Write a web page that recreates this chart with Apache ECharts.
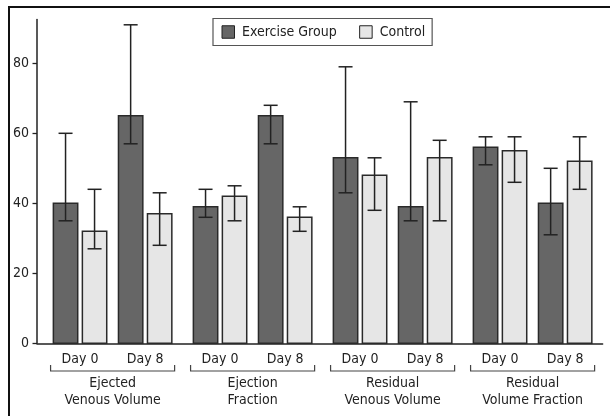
<!DOCTYPE html>
<html>
<head>
<meta charset="utf-8">
<title>Venous volume by group</title>
<script src="https://cdn.jsdelivr.net/npm/echarts@6/dist/echarts.min.js"></script>
<style>
  html, body { margin: 0; padding: 0; background: #fff; }
  #chart { width: 610px; height: 416px; }
</style>
</head>
<body>
<div id="chart"></div>
<script>
// Measures (x-axis groups) and the two time points inside each group
const groups = ['Ejected\nVenous Volume', 'Ejection\nFraction', 'Residual\nVenous Volume', 'Residual\nVolume Fraction'];
const days = ['Day 0', 'Day 8'];
const seriesNames = ['Exercise Group', 'Control'];

// Means, order: [Day 0, Day 8] for each measure
const exerciseMean = [[40, 65], [39, 65], [53, 39], [56, 40]];
const exerciseLow  = [[35, 57], [36, 57], [43, 35], [51, 31]];
const exerciseHigh = [[60, 91], [44, 68], [79, 69], [59, 50]];

const controlMean = [[32, 37], [42, 36], [48, 53], [55, 52]];
const controlLow  = [[27, 28], [35, 32], [38, 35], [46, 44]];
const controlHigh = [[44, 43], [45, 39], [53, 58], [59, 59]];

const yTicks = [0, 20, 40, 60, 80];

const FONT = '"Liberation Sans Narrow", "Arial Narrow", "DejaVu Sans Condensed", sans-serif';
const INK = '#222';
const TEXT_SIZE = 14;

// layout within one measure group (in units of the group width)
const PAIR_OFFSET = 0.2325;   // Day 0 / Day 8 pair centre from group centre
const BAR_OFFSET = 0.1036;    // bar centre from pair centre
const BAR_WIDTH = 0.174;
const CAP_WIDTH = 0.10;
const BRACKET_HALF = 0.443;

function rows(mean, low, high) {
  const out = [];
  mean.forEach((pair, g) => {
    pair.forEach((m, d) => out.push([g, d, m, low[g][d], high[g][d]]));
  });
  return out;
}

function barRenderer(side) {
  return function (params, api) {
    const g = api.value(0), d = api.value(1);
    const unit = api.size([1, 0])[0];
    const cx = api.coord([g, 0])[0] + ((d === 0 ? -1 : 1) * PAIR_OFFSET + side * BAR_OFFSET) * unit;
    const y0 = api.coord([g, 0])[1];
    const yTop = api.coord([g, api.value(2)])[1];
    const yLo = api.coord([g, api.value(3)])[1];
    const yHi = api.coord([g, api.value(4)])[1];
    const w = BAR_WIDTH * unit;
    const cap = CAP_WIDTH * unit;
    const style = api.style();
    const lineStyle = { stroke: INK, lineWidth: 1.5, fill: null };
    return {
      type: 'group',
      children: [
        {
          type: 'rect',
          shape: { x: cx - w / 2, y: yTop, width: w, height: y0 - yTop },
          style: { fill: style.fill, stroke: '#2a2a2a', lineWidth: 1.5 }
        },
        { type: 'line', shape: { x1: cx, y1: yLo, x2: cx, y2: yHi }, style: lineStyle },
        { type: 'line', shape: { x1: cx - cap / 2, y1: yHi, x2: cx + cap / 2, y2: yHi }, style: lineStyle },
        { type: 'line', shape: { x1: cx - cap / 2, y1: yLo, x2: cx + cap / 2, y2: yLo }, style: lineStyle }
      ]
    };
  };
}

// Day labels and the bracket under each measure group
function dayLabelRenderer(params, api) {
  const g = api.value(0);
  const unit = api.size([1, 0])[0];
  const cx = api.coord([g, 0])[0];
  const y0 = api.coord([g, 0])[1];
  const half = BRACKET_HALF * unit;
  const by = y0 + 27.7;
  const children = days.map((txt, d) => ({
    type: 'text',
    style: {
      text: txt,
      x: cx + (d === 0 ? -1 : 1) * PAIR_OFFSET * unit,
      y: y0 + 16.5,
      align: 'center',
      verticalAlign: 'middle',
      fontSize: TEXT_SIZE,
      fontFamily: FONT,
      fill: INK
    }
  }));
  children.push({
    type: 'polyline',
    shape: { points: [[cx - half, by - 6], [cx - half, by], [cx + half, by], [cx + half, by - 6]] },
    style: { stroke: '#444', lineWidth: 1.2, fill: null }
  });
  return { type: 'group', children };
}

const chart = echarts.init(document.getElementById('chart'), null, { renderer: 'canvas' });

chart.setOption({
  animation: false,
  backgroundColor: '#fff',
  textStyle: { fontFamily: FONT },
  graphic: [{
    type: 'rect',
    z: -10,
    shape: { x: 9, y: 7, width: 700, height: 500 },
    style: { fill: null, stroke: '#111', lineWidth: 2 }
  }],
  legend: {
    data: seriesNames,
    left: 213,
    top: 18.5,
    orient: 'horizontal',
    icon: 'rect',
    itemWidth: 12.5,
    itemHeight: 12.5,
    itemGap: 22.5,
    padding: [5, 7, 5, 8.5],
    borderColor: '#555',
    borderWidth: 1.2,
    backgroundColor: '#fff',
    itemStyle: { borderColor: '#222', borderWidth: 1 },
    textStyle: { fontSize: TEXT_SIZE, color: INK, fontFamily: FONT, padding: [0, 0, 0, 2.5], lineHeight: 17 }
  },
  grid: { left: 37, right: 7.4, top: 19.55, height: 323.75, containLabel: false },
  xAxis: {
    type: 'value',
    min: -0.54,
    max: 3.5,
    splitLine: { show: false },
    axisTick: { show: false },
    axisLine: { show: true, onZero: false, lineStyle: { color: INK, width: 1.5 } },
    axisLabel: {
      customValues: [0, 1, 2, 3],
      formatter: v => groups[Math.round(v)],
      margin: 32,
      fontSize: TEXT_SIZE,
      lineHeight: 16.5,
      color: INK,
      fontFamily: FONT,
      align: 'center'
    }
  },
  yAxis: {
    type: 'value',
    min: 0,
    max: 92.5,
    interval: 20,
    splitLine: { show: false },
    axisLine: { show: true, onZero: false, lineStyle: { color: INK, width: 1.5 } },
    axisTick: { show: true, length: 4.5, customValues: yTicks, lineStyle: { color: INK, width: 1.3 } },
    axisLabel: { customValues: yTicks, margin: 8, fontSize: TEXT_SIZE, color: INK, fontFamily: FONT }
  },
  series: [
    {
      name: seriesNames[0],
      type: 'custom',
      itemStyle: { color: '#666666', borderColor: '#222' },
      encode: { x: 0, y: [2, 3, 4] },
      renderItem: barRenderer(-1),
      data: rows(exerciseMean, exerciseLow, exerciseHigh),
      clip: false
    },
    {
      name: seriesNames[1],
      type: 'custom',
      itemStyle: { color: '#e6e6e6', borderColor: '#222' },
      encode: { x: 0, y: [2, 3, 4] },
      renderItem: barRenderer(1),
      data: rows(controlMean, controlLow, controlHigh),
      clip: false
    },
    {
      name: 'days',
      type: 'custom',
      silent: true,
      renderItem: dayLabelRenderer,
      encode: { x: 0 },
      data: groups.map((_, g) => [g]),
      clip: false
    }
  ]
});
</script>
</body>
</html>
